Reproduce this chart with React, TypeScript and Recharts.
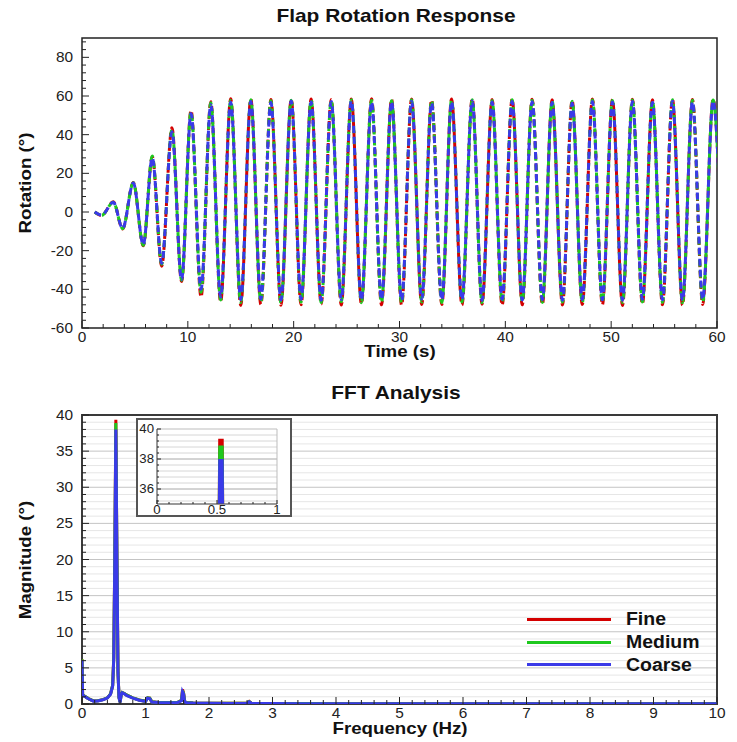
import React from "react";
import { LineChart, Line, XAxis, YAxis, CartesianGrid, ReferenceArea, Legend } from "recharts";

const FONT = '"Liberation Sans", Arial, Helvetica, sans-serif';
const INK = "#222";
const FINE = "#d40000";
const MEDIUM = "#1ec81e";
const COARSE = "#3a3ae8";

// turning points of the flap rotation (s / deg)
const rotationTimes = [
  1.2, 1.86, 2.96, 3.84, 4.85, 5.79, 6.64, 7.53, 8.5, 9.41, 10.3, 11.25, 12.17, 13.1, 14.05, 15.0,
  15.95, 16.9, 17.85, 18.8, 19.77, 20.7, 21.65, 22.6, 23.55, 24.5, 25.45, 26.4, 27.36, 28.3, 29.25, 30.2,
  31.14, 32.1, 33.03, 34.0, 34.92, 35.9, 36.87, 37.8, 38.75, 39.7, 40.64, 41.6, 42.53, 43.5, 44.42, 45.4,
  46.31, 47.27, 48.23, 49.17, 50.12, 51.07, 52.01, 52.95, 53.9, 54.85, 55.79, 56.74, 57.68, 58.65, 59.63, 60.58,
];
const fineRotation = [
  0, -1.8, 5.3, -8.8, 15.3, -17.5, 28.6, -28, 43.6, -36, 52.6, -44, 57, -46.5, 58.6, -48.3,
  58.4, -47.8, 58.2, -48.2, 58.3, -48, 58.5, -47.6, 58.2, -48.1, 58.4, -47.5, 58.6, -48, 58.3, -48.2,
  58.5, -47.8, 58, -47.9, 58.4, -48.1, 58.6, -47.7, 58.2, -48.2, 58.4, -48, 58.3, -47.8, 58.1, -48.1,
  57.8, -47.9, 58.5, -48, 58.2, -48.3, 58.3, -47.6, 58.1, -48, 58.4, -48.2, 58.2, -47.8, 58.3, -47.9,
];
const mediumRotation = [
  0, -1.7, 5.1, -8.6, 15.1, -17.2, 29, -27, 42.5, -35.3, 51.8, -41.5, 56.5, -45.5, 57.8, -46.8,
  58, -46.5, 57.6, -47, 57.8, -46.6, 58, -46.8, 57.7, -46.4, 58.1, -46.9, 57.8, -46.7, 57.6, -47,
  58, -46.5, 57.5, -46.8, 57.9, -46.6, 58.1, -46.9, 57.7, -46.7, 58, -46.5, 57.8, -46.8, 57.6, -46.6,
  57.3, -46.9, 57.9, -46.7, 57.7, -46.8, 57.9, -46.5, 57.6, -46.7, 58, -46.9, 57.8, -46.6, 57.9, -46.7,
];
const coarseRotation = [
  0, -1.6, 5, -8.5, 15, -17, 28, -26.5, 41.5, -35, 51, -40, 55.5, -44, 56.8, -45.2,
  57.2, -45, 56.6, -45.5, 57.4, -45.1, 56.9, -45.6, 57.2, -45.3, 57.5, -45.6, 56.8, -45.2, 57.1, -45.5,
  57.3, -45, 56.4, -45.4, 57, -45.3, 57.4, -45.7, 56.9, -45.1, 57.2, -45.5, 57, -45.3, 56.7, -45.6,
  56.2, -45.2, 57.1, -45.4, 56.9, -45.6, 57.2, -45.1, 56.8, -45.4, 57.3, -45.6, 57, -45.2, 57.4, -45.3,
];

// FFT spectrum (Hz / deg)
const frequencies = [
  0, 0.01, 0.05, 0.1, 0.18, 0.25, 0.33, 0.4, 0.45, 0.483, 0.5, 0.517, 0.533, 0.55, 0.567, 0.583, 0.6,
  0.617, 0.633, 0.667, 0.7, 0.8, 0.9, 1.0, 1.033, 1.067, 1.1, 1.2, 1.35, 1.5, 1.567, 1.583, 1.6, 1.617,
  1.65, 1.75, 2.0, 2.3, 2.6, 2.633, 2.667, 2.7, 3.0, 3.5, 4.0, 5.0, 6.0, 7.0, 8.0, 9.0, 10.0,
];
const fineMagnitude = [
  6.2, 1.25, 1.05, 0.75, 0.42, 0.45, 0.6, 0.85, 1.4, 2.6, 6.5, 21, 39.35, 20.5, 4.5, 0.9, 0.25,
  1.3, 1.6, 1.45, 1.25, 0.85, 0.55, 0.38, 0.85, 0.8, 0.3, 0.22, 0.2, 0.2, 0.5, 2.0, 1.5, 0.35,
  0.2, 0.15, 0.12, 0.1, 0.12, 0.35, 0.12, 0.08, 0.07, 0.06, 0.05, 0.05, 0.04, 0.04, 0.03, 0.03, 0.03,
];
const mediumMagnitude = [
  6.2, 1.25, 1.05, 0.75, 0.42, 0.45, 0.6, 0.85, 1.4, 2.6, 6.4, 20.6, 38.9, 20.2, 4.4, 0.9, 0.25,
  1.3, 1.6, 1.45, 1.25, 0.85, 0.55, 0.38, 0.85, 0.8, 0.3, 0.22, 0.2, 0.2, 0.5, 1.85, 1.45, 0.35,
  0.2, 0.15, 0.12, 0.1, 0.12, 0.33, 0.12, 0.08, 0.07, 0.06, 0.05, 0.05, 0.04, 0.04, 0.03, 0.03, 0.03,
];
const coarseMagnitude = [
  6.1, 1.2, 1.0, 0.72, 0.4, 0.43, 0.58, 0.83, 1.35, 2.5, 6.2, 20.2, 38.0, 19.8, 4.3, 0.85, 0.22,
  1.25, 1.55, 1.4, 1.2, 0.82, 0.52, 0.36, 0.8, 0.75, 0.28, 0.2, 0.18, 0.18, 0.45, 1.7, 1.4, 0.3,
  0.18, 0.13, 0.1, 0.08, 0.1, 0.3, 0.1, 0.07, 0.06, 0.05, 0.04, 0.04, 0.03, 0.03, 0.03, 0.03, 0.03,
];

const seriesNames = ["Fine", "Medium", "Coarse"];
const seriesColors = [FINE, MEDIUM, COARSE];

const range = (from: number, to: number, step: number) => {
  const n = Math.round((to - from) / step);
  const out: number[] = [];
  for (let i = 0; i <= n; i++) out.push(Math.round((from + i * step) * 1000) / 1000);
  return out;
};

const rotationRows = rotationTimes.map((t, i) => ({
  t,
  fine: fineRotation[i],
  medium: mediumRotation[i],
  coarse: coarseRotation[i],
}));
const fftRows = frequencies.map((f, i) => ({
  f,
  fine: fineMagnitude[i],
  medium: mediumMagnitude[i],
  coarse: coarseMagnitude[i],
}));

type TickOpts = { step: number; major: number; minor: number; size: number; gap: number; stretch?: number };

const isMajor = (v: number, step: number) => Math.abs(v / step - Math.round(v / step)) < 1e-6;

function bottomTick(o: TickOpts) {
  return (props: any) => {
    const { x, y, payload } = props;
    const v = Number(payload.value);
    const big = isMajor(v, o.step);
    return (
      <g>
        <line x1={x} x2={x} y1={y} y2={y - (big ? o.major : o.minor)} stroke={INK} strokeWidth={1} />
        {big && (
          <text
            transform={`translate(${x},${y + o.gap}) scale(${o.stretch ?? 1.1},1)`}
            textAnchor="middle"
            fontSize={o.size}
            fontFamily={FONT}
            fill={INK}
          >
            {String(v)}
          </text>
        )}
      </g>
    );
  };
}

function leftTick(o: TickOpts) {
  return (props: any) => {
    const { x, y, payload } = props;
    const v = Number(payload.value);
    const big = isMajor(v, o.step);
    return (
      <g>
        <line x1={x} x2={x + (big ? o.major : o.minor)} y1={y} y2={y} stroke={INK} strokeWidth={1} />
        {big && (
          <text
            transform={`translate(${x - o.gap},${y + o.size * 0.36}) scale(${o.stretch ?? 1.1},1)`}
            textAnchor="end"
            fontSize={o.size}
            fontFamily={FONT}
            fill={INK}
          >
            {String(v)}
          </text>
        )}
      </g>
    );
  };
}

function Caption({ x, y, text, size, rotate }: { x: number; y: number; text: string; size: number; rotate?: boolean }) {
  return (
    <div
      style={{
        position: "absolute",
        left: x,
        top: y,
        transform: `translate(-50%,-50%) ${rotate ? "rotate(-90deg)" : ""} scale(1.1,1)`,
        fontFamily: FONT,
        fontWeight: "bold",
        fontSize: size,
        lineHeight: `${Math.round(size * 0.8)}px`,
        whiteSpace: "nowrap",
        color: "#111",
      }}
    >
      {text}
    </div>
  );
}

function LegendBox(props: any) {
  const items = props.payload || [];
  const rows = seriesNames.map((name, i) => {
    const hit = items.find((it: any) => it.value === name);
    return { name, color: hit ? hit.color : seriesColors[i] };
  });
  return (
    <div style={{ fontFamily: FONT, fontWeight: "bold", fontSize: 18, color: "#111", textAlign: "left" }}>
      {rows.map((r) => (
        <div key={r.name} style={{ display: "flex", alignItems: "center", justifyContent: "flex-start", height: 22.7 }}>
          <div style={{ width: 84, minWidth: 84, flexShrink: 0, height: 3, background: r.color, marginRight: 15 }} />
          <span style={{ display: "inline-block", transform: "scale(1.08,1)", transformOrigin: "left center", lineHeight: "16px" }}>
            {r.name}
          </span>
        </div>
      ))}
    </div>
  );
}

function RotationChart() {
  const dash = "7 4";
  return (
    <LineChart width={737} height={370} data={rotationRows} margin={{ top: 38, right: 20, bottom: 0, left: 0 }}>
      <XAxis
        type="number"
        dataKey="t"
        domain={[0, 60]}
        allowDataOverflow
        ticks={range(0, 60, 2)}
        interval={0}
        tick={bottomTick({ step: 10, major: 7, minor: 4, size: 14, gap: 14 })}
        tickLine={false}
        axisLine={false}
        tickSize={0}
        tickMargin={0}
        height={42}
      />
      <YAxis
        type="number"
        domain={[-60, 90]}
        allowDataOverflow
        ticks={range(-60, 88, 4)}
        interval={0}
        tick={leftTick({ step: 20, major: 7, minor: 4, size: 14, gap: 9 })}
        tickLine={false}
        axisLine={false}
        tickSize={0}
        tickMargin={0}
        width={82}
      />
      <ReferenceArea x1={0} x2={60} y1={-60} y2={90} fill="none" stroke={INK} strokeWidth={1.5} />
      <Line type="monotone" dataKey="fine" stroke={FINE} strokeWidth={3} strokeDasharray={dash} dot={false} activeDot={false} isAnimationActive={false} />
      <Line type="monotone" dataKey="medium" stroke={MEDIUM} strokeWidth={3} strokeDasharray={dash} strokeDashoffset={3} dot={false} activeDot={false} isAnimationActive={false} />
      <Line type="monotone" dataKey="coarse" stroke={COARSE} strokeWidth={3} strokeDasharray={dash} dot={false} activeDot={false} isAnimationActive={false} />
    </LineChart>
  );
}

function FftChart() {
  return (
    <LineChart width={737} height={372} data={fftRows} margin={{ top: 45, right: 20, bottom: 0, left: 0 }}>
      <CartesianGrid vertical={false} horizontalValues={range(1, 39, 1).filter((v) => v % 5 !== 0)} stroke="#e6e6e6" />
      <CartesianGrid vertical={false} horizontalValues={[5, 10, 15, 20, 25, 30, 35]} stroke="#c4c4c4" />
      <XAxis
        type="number"
        dataKey="f"
        domain={[0, 10]}
        allowDataOverflow
        ticks={range(0, 10, 0.2)}
        interval={0}
        tick={bottomTick({ step: 1, major: 7, minor: 4, size: 14, gap: 14 })}
        tickLine={false}
        axisLine={false}
        tickSize={0}
        tickMargin={0}
        height={38}
      />
      <YAxis
        type="number"
        domain={[0, 40]}
        allowDataOverflow
        ticks={range(0, 40, 1)}
        interval={0}
        tick={leftTick({ step: 5, major: 7, minor: 4, size: 14, gap: 9 })}
        tickLine={false}
        axisLine={false}
        tickSize={0}
        tickMargin={0}
        width={82}
      />
      <ReferenceArea x1={0} x2={10} y1={0} y2={40} fill="none" stroke="#3a3a3a" strokeWidth={2} />
      <Line type="linear" dataKey="fine" name={seriesNames[0]} stroke={FINE} strokeWidth={3} dot={false} activeDot={false} isAnimationActive={false} />
      <Line type="linear" dataKey="medium" name={seriesNames[1]} stroke={MEDIUM} strokeWidth={3} dot={false} activeDot={false} isAnimationActive={false} />
      <Line type="linear" dataKey="coarse" name={seriesNames[2]} stroke={COARSE} strokeWidth={3} dot={false} activeDot={false} isAnimationActive={false} />
      <Legend
        layout="vertical"
        align="center"
        verticalAlign="middle"
        content={<LegendBox />}
        wrapperStyle={{ left: 527, top: 238, width: 200 }}
      />
    </LineChart>
  );
}

function PeakInset() {
  return (
    <LineChart width={152} height={97} data={fftRows} margin={{ top: 9, right: 13, bottom: 0, left: 0 }}>
      <CartesianGrid vertical={false} horizontalValues={range(35.2, 40, 0.4).filter((v) => !isMajor(v, 2))} stroke="#d6d6d6" />
      <CartesianGrid vertical={false} horizontalValues={[36, 38]} stroke="#a8a8a8" />
      <XAxis
        type="number"
        dataKey="f"
        domain={[0, 1]}
        allowDataOverflow
        ticks={range(0, 1, 0.1)}
        interval={0}
        tick={bottomTick({ step: 0.5, major: 4, minor: 2, size: 12, gap: 10 })}
        tickLine={false}
        axisLine={{ stroke: "#555" }}
        tickSize={0}
        tickMargin={0}
        height={13}
      />
      <YAxis
        type="number"
        domain={[35, 40]}
        allowDataOverflow
        ticks={range(35.2, 40, 0.4)}
        interval={0}
        tick={leftTick({ step: 2, major: 4, minor: 2, size: 12, gap: 3 })}
        tickLine={false}
        axisLine={{ stroke: "#555" }}
        tickSize={0}
        tickMargin={0}
        width={19}
      />
      <ReferenceArea x1={0} x2={1} y1={35} y2={40} fill="none" stroke="#bdbdbd" strokeWidth={1} />
      <Line type="linear" dataKey="fine" stroke={FINE} strokeWidth={5.5} dot={false} activeDot={false} isAnimationActive={false} />
      <Line type="linear" dataKey="medium" stroke={MEDIUM} strokeWidth={5.5} dot={false} activeDot={false} isAnimationActive={false} />
      <Line type="linear" dataKey="coarse" stroke={COARSE} strokeWidth={5.5} dot={false} activeDot={false} isAnimationActive={false} />
    </LineChart>
  );
}

export default function App() {
  return (
    <div style={{ position: "absolute", left: 0, top: 0, width: 737, height: 742, background: "#fff", overflow: "hidden" }}>
      <div style={{ position: "absolute", left: 0, top: 0 }}>
        <RotationChart />
      </div>
      <div style={{ position: "absolute", left: 0, top: 370 }}>
        <FftChart />
      </div>
      <div
        style={{
          position: "absolute",
          left: 136,
          top: 418,
          width: 156,
          height: 99,
          boxSizing: "border-box",
          border: "2px solid #555",
          background: "#fff",
        }}
      >
        <PeakInset />
      </div>
      <Caption x={396} y={15} text="Flap Rotation Response" size={19} />
      <Caption x={26} y={183} text="Rotation (°)" size={17} rotate />
      <Caption x={400} y={352} text="Time (s)" size={17} />
      <Caption x={396} y={392} text="FFT Analysis" size={19} />
      <Caption x={26} y={560} text="Magnitude (°)" size={17} rotate />
      <Caption x={400} y={729} text="Frequency (Hz)" size={17} />
    </div>
  );
}
